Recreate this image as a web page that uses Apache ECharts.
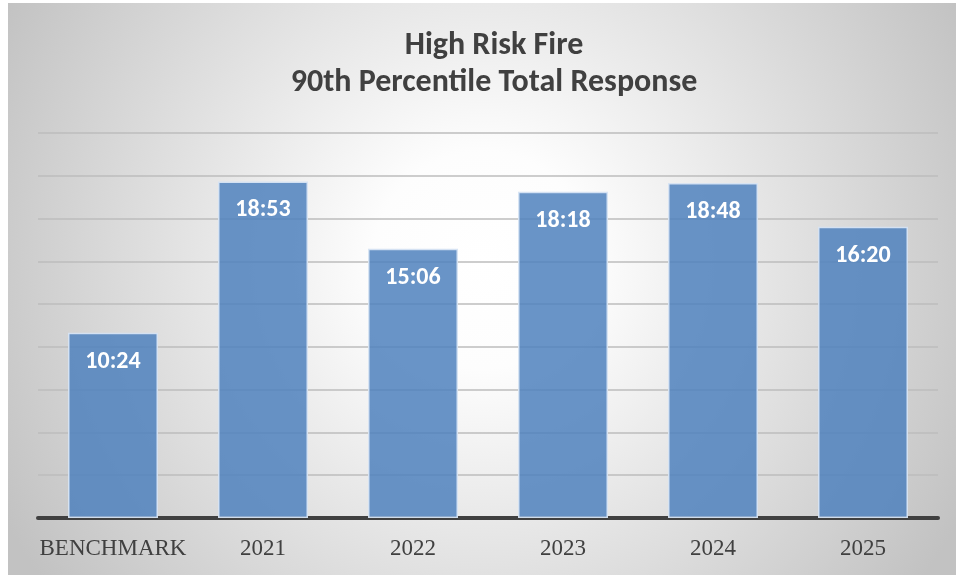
<!DOCTYPE html>
<html>
<head>
<meta charset="utf-8">
<title>High Risk Fire</title>
<script src="https://cdn.jsdelivr.net/npm/echarts@6/dist/echarts.min.js"></script>
<style>
  html, body { margin: 0; padding: 0; background: #ffffff; }
  #chart { position: absolute; left: 8px; top: 3px; width: 948px; height: 572px; }
</style>
</head>
<body>
<div id="chart"></div>
<script>
  // categories and 90th percentile times (seconds)
  var categories = ['BENCHMARK', '2021', '2022', '2023', '2024', '2025'];
  var responseTimes = ['10:24', '18:53', '15:06', '18:18', '18:48', '16:20'];
  var responseSeconds = responseTimes.map(function (t) {
    var p = t.split(':');
    return Number(p[0]) * 60 + Number(p[1]);
  });
  // hidden value axis: 0 .. 21:36 in 2:24 steps
  var yMin = 0;
  var yMax = 1296;
  var yStep = 144;

  function toMinSec(v) {
    var m = Math.floor(v / 60), s = Math.round(v % 60);
    return m + ':' + (s < 10 ? '0' + s : s);
  }

  var myChart = echarts.init(document.getElementById('chart'));
  myChart.setOption({
    backgroundColor: new echarts.graphic.RadialGradient(0.5, 0.45, 0.95, [
      { offset: 0, color: '#ffffff' },
      { offset: 0.2, color: '#fdfdfd' },
      { offset: 1, color: '#c2c2c2' }
    ]),
    animation: false,
    title: {
      text: 'High Risk Fire\n90th Percentile Total Response',
      left: 481,
      top: 19,
      textAlign: 'center',
      textStyle: {
        fontFamily: 'Carlito, "Noto Sans", sans-serif',
        fontSize: 32,
        fontWeight: 'bold',
        lineHeight: 37,
        color: '#404040'
      }
    },
    grid: {
      left: 30,
      right: 18,
      top: 130,
      bottom: 57
    },
    xAxis: {
      type: 'category',
      data: categories,
      axisTick: { show: false },
      axisLine: {
        show: true,
        lineStyle: { color: '#404040', width: 4 }
      },
      axisLabel: {
        interval: 0,
        margin: 19,
        fontFamily: '"Liberation Serif", serif',
        fontSize: 23,
        color: '#404040'
      }
    },
    yAxis: {
      type: 'value',
      min: yMin,
      max: yMax,
      interval: yStep,
      axisLabel: { show: false },
      axisLine: { show: false },
      axisTick: { show: false },
      splitLine: {
        lineStyle: { color: '#bcbcbc', width: 1.5 }
      }
    },
    series: [
      {
        type: 'bar',
        data: responseSeconds,
        barWidth: '60%',
        itemStyle: {
          color: 'rgba(79, 129, 189, 0.85)',
          borderColor: 'rgba(215, 228, 243, 0.95)',
          borderWidth: 1.5
        },
        label: {
          show: true,
          position: 'insideTop',
          distance: 17,
          formatter: function (params) {
            return toMinSec(params.value);
          },
          fontFamily: 'Carlito, "Noto Sans", sans-serif',
          fontSize: 24,
          fontWeight: 'bold',
          color: '#ffffff'
        }
      }
    ]
  });
</script>
</body>
</html>
